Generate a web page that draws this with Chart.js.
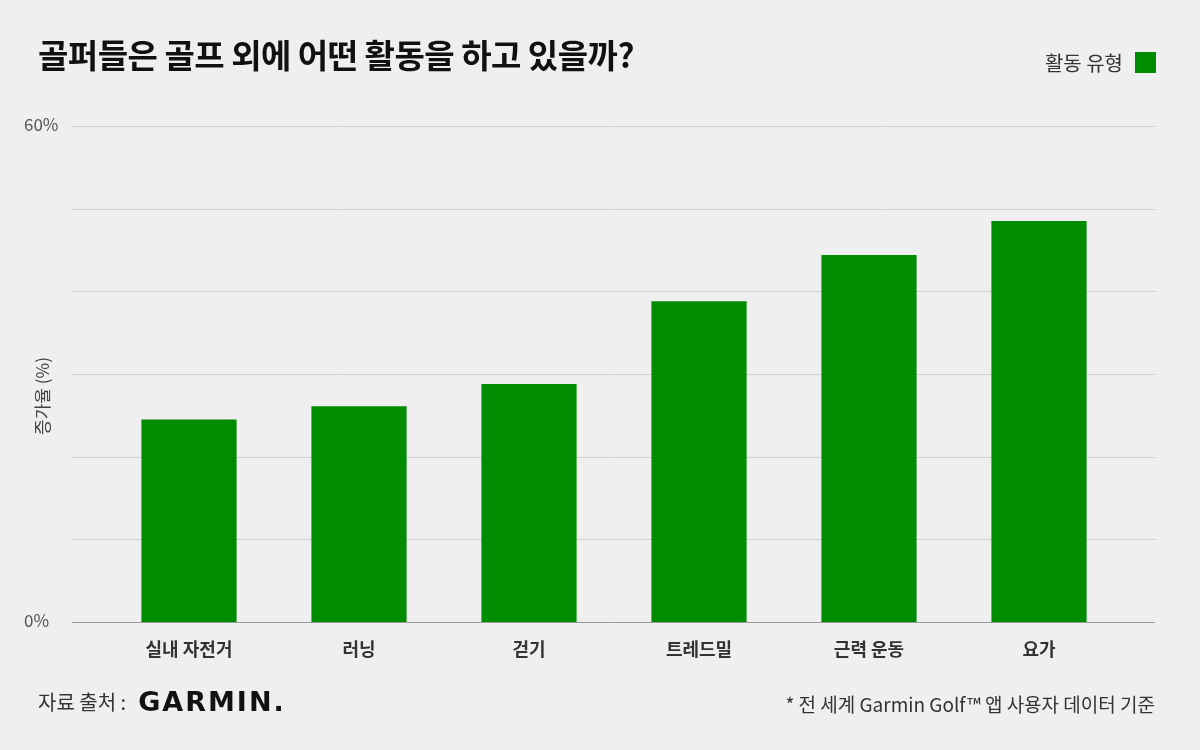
<!DOCTYPE html>
<html>
<head>
<meta charset="utf-8">
<script src="https://cdn.jsdelivr.net/npm/chart.js@4"></script>
<style>
  body { margin: 0; background: #efefef; font-family: "Noto Sans CJK KR", "Noto Sans", sans-serif; }
  #wrap { position: relative; width: 1200px; height: 750px; }
  #chart { position: absolute; left: 0; top: 0; }
  .txt { position: absolute; color: #222; white-space: nowrap; }
  #title { left: 38px; top: 30px; font-size: 33px; font-weight: 700; color: #111; letter-spacing: -0.5px; }
  #legend { right: 44px; top: 48px; font-size: 20px; color: #333; display: flex; align-items: center; }
  #legend span.box { display: inline-block; width: 21px; height: 21px; background: #008c00; margin-left: 12px; }
  #source { left: 38px; top: 686px; font-size: 20px; color: #333; display: flex; align-items: center; }
  #source b { font-family: "DejaVu Sans", sans-serif; font-size: 27px; letter-spacing: 2px; margin-left: 12px; color: #111; }
  #note { right: 45px; top: 690px; font-size: 19px; color: #333; }
</style>
</head>
<body>
<div id="wrap">
  <canvas id="chart" width="1200" height="750"></canvas>
  <div class="txt" id="title">골퍼들은 골프 외에 어떤 활동을 하고 있을까?</div>
  <div class="txt" id="legend">활동 유형<span class="box"></span></div>
  <div class="txt" id="source">자료 출처 :<b>GARMIN.</b></div>
  <div class="txt" id="note">* 전 세계 Garmin Golf™ 앱 사용자 데이터 기준</div>
</div>
<script>
const categories = ['실내 자전거', '러닝', '걷기', '트레드밀', '근력 운동', '요가'];
const increaseRate = [24.5, 26.1, 28.8, 38.8, 44.4, 48.5];
const tickLabels = { 0: '0%', 60: '60%' };

// horizontal grid across the full width, labels at the far left
const gridPlugin = {
    id: 'fullGrid',
    beforeDatasetsDraw(chart) {
        const { ctx, scales: { y } } = chart;
        ctx.save();
        for (let v = 0; v <= 60; v += 10) {
            const py = Math.round(y.getPixelForValue(v)) + 0.5;
            ctx.strokeStyle = v === 0 ? '#9a9a9a' : '#cfcfcf';
            ctx.lineWidth = 1;
            ctx.beginPath();
            ctx.moveTo(72, py);
            ctx.lineTo(1155, py);
            ctx.stroke();
            if (tickLabels[v]) {
                ctx.fillStyle = '#555';
                ctx.font = '17px "Noto Sans CJK KR", sans-serif';
                ctx.textBaseline = 'middle';
                ctx.textAlign = 'left';
                ctx.fillText(tickLabels[v], 24, py - 2);
            }
        }
        ctx.translate(43, (y.top + y.bottom) / 2 + 22);
        ctx.rotate(-Math.PI / 2);
        ctx.textAlign = 'center';
        ctx.fillStyle = '#444';
        ctx.font = '17px "Noto Sans CJK KR", sans-serif';
        ctx.fillText('증가율 (%)', 0, 0);
        ctx.restore();
    }
};

new Chart(document.getElementById('chart'), {
    type: 'bar',
    data: {
        labels: categories,
        datasets: [{
            label: '활동 유형',
            data: increaseRate,
            backgroundColor: '#008c00',
            barPercentage: 0.56,
            categoryPercentage: 1
        }]
    },
    options: {
        responsive: false,
        animation: false,
        layout: { padding: { left: 104, right: 76, top: 126, bottom: 0 } },
        plugins: { legend: { display: false }, tooltip: { enabled: false } },
        scales: {
            x: {
                grid: { display: false },
                border: { display: false },
                ticks: { color: '#333', font: { size: 18, weight: 'bold', family: '"Noto Sans CJK KR", sans-serif' }, padding: 8 },
                afterFit(s) { s.height = 128; }
            },
            y: {
                min: 0, max: 60,
                display: false
            }
        }
    },
    plugins: [gridPlugin]
});
</script>
</body>
</html>
